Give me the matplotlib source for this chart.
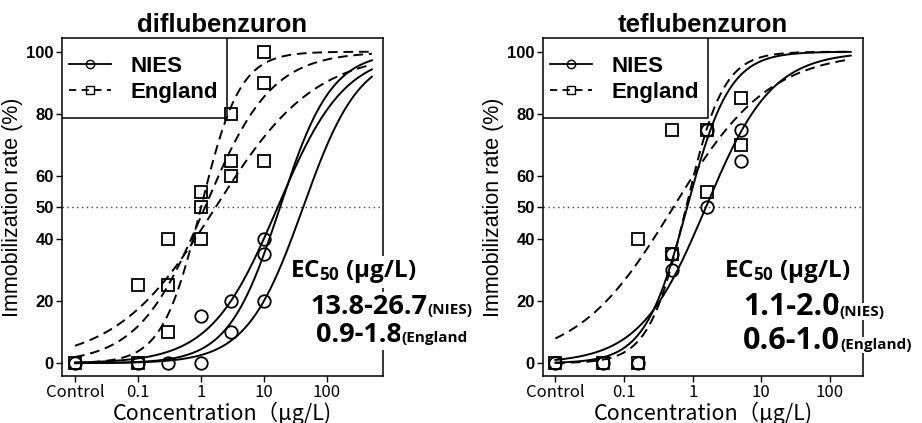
import numpy as np
import matplotlib
matplotlib.use("Agg")
import matplotlib.pyplot as plt
from matplotlib.lines import Line2D
from matplotlib.patches import Rectangle

plt.rcParams['font.family'] = ['Liberation Sans', 'DejaVu Sans']
plt.rcParams['mathtext.fontset'] = 'custom'
plt.rcParams['mathtext.default'] = 'bf'
plt.rcParams['mathtext.bf'] = 'Open Sans:bold'
plt.rcParams['mathtext.rm'] = 'Open Sans:bold'

# ---- data ----
# "Control" is drawn at 0.01 on the log axis
tick_vals = [0.01, 0.1, 1, 10, 100]
tick_labels = ["Control", "0.1", "1", "10", "100"]
y_ticks = [0, 20, 40, 50, 60, 80, 100]

# diflubenzuron
dif_nies_x = [0.01, 0.1, 0.3, 1, 1, 3, 3, 10, 10, 10]
dif_nies_y = [0, 0, 0, 15, 0, 20, 10, 40, 35, 20]
dif_eng_x = [0.01, 0.1, 0.1, 0.3, 0.3, 0.3, 1, 1, 1, 3, 3, 3, 10, 10, 10]
dif_eng_y = [0, 25, 0, 40, 25, 10, 55, 50, 40, 80, 65, 60, 100, 90, 65]
# fitted curves: EC50 and slope of each test
dif_nies_ec50 = [16.4, 17.9, 41.7]
dif_nies_slope = [0.815, 1.06, 0.97]
dif_eng_ec50 = [1.0, 1.15, 1.7]
dif_eng_slope = [1.4, 0.82, 0.55]
dif_xmax = 515

# teflubenzuron
tef_nies_x = [0.01, 0.05, 0.16, 0.5, 0.5, 1.6, 1.6, 5, 5]
tef_nies_y = [0, 0, 0, 30, 35, 75, 50, 75, 65]
tef_eng_x = [0.01, 0.05, 0.16, 0.16, 0.5, 0.5, 1.6, 1.6, 5, 5]
tef_eng_y = [0, 0, 40, 0, 75, 35, 75, 55, 85, 70]
tef_nies_ec50 = [0.83, 1.55]
tef_nies_slope = [1.4, 0.9]
tef_eng_ec50 = [0.52, 0.8]
tef_eng_slope = [0.62, 1.6]
tef_xmax = 200


def curve(x, ec50, b):
	return 100.0 / (1.0 + (ec50 / x) ** b)


def panel(ax, title, nx, ny, ex, ey, n_ec, n_b, e_ec, e_b, xmax, xlim,
		  ec_range_nies, ec_range_eng, txt_pos, num_size, box_ec50):
	xs = np.logspace(-2, np.log10(xmax), 300)
	for ec, b in zip(n_ec, n_b):
		ax.plot(xs, curve(xs, ec, b), color='black', lw=1.4, zorder=3)
	for ec, b in zip(e_ec, e_b):
		ax.plot(xs, curve(xs, ec, b), color='black', lw=1.4, dashes=(5, 3), zorder=3)
	ax.plot(nx, ny, 'o', ms=9, mfc='none', mec='black', mew=1.3, zorder=5)
	ax.plot(ex, ey, 's', ms=9, mfc='none', mec='black', mew=1.3, zorder=5)
	ax.axhline(50, color='#444444', lw=1.0, ls=(0, (1, 2.5)), zorder=1)

	ax.set_xscale('log')
	ax.set_xlim(*xlim)
	ax.set_ylim(-4.1, 104.4)
	ax.set_xticks(tick_vals)
	ax.set_xticklabels(tick_labels, family='Noto Sans CJK JP', fontsize=12)
	ax.minorticks_off()
	ax.set_yticks(y_ticks)
	ax.set_yticklabels([str(v) for v in y_ticks], fontsize=12, fontweight='bold')
	ax.tick_params(direction='out', length=4, width=1, pad=2)
	for s in ax.spines.values():
		s.set_linewidth(1.1)

	ax.set_title(title, fontsize=18.5, fontweight='bold', pad=4)
	ax.set_ylabel("Immobilization rate (%)", fontsize=15.5, labelpad=2)
	ax.set_xlabel("Concentration（μg/L)", family='Noto Sans CJK JP', fontsize=15.5, labelpad=0)

	# legend frame (R style box in the upper-left corner)
	ax.add_patch(Rectangle((0, 0.763), 0.515, 0.237, transform=ax.transAxes,
						   facecolor='white', edgecolor='black', lw=1.1, zorder=4))
	h1 = Line2D([], [], color='black', lw=1.3, marker='o', ms=6, mfc='none', mec='black')
	h2 = Line2D([], [], color='black', lw=1.3, dashes=(4, 3), marker='s', ms=6, mfc='none', mec='black')
	leg = ax.legend([h1, h2], ["NIES", "England"], loc='upper left',
					bbox_to_anchor=(0, 0.966), borderaxespad=0, frameon=False,
					prop={'weight': 'bold', 'size': 16}, handlelength=1.9,
					handletextpad=0.9, labelspacing=0.2, borderpad=0.3)
	leg.set_zorder(6)

	(ex0, ey0), (nx0, ny0), (gx0, gy0) = txt_pos
	bb = dict(facecolor='white', edgecolor='none', pad=2) if box_ec50 else None
	ax.text(ex0, ey0, r"EC$_{50}$ (μg/L)", transform=ax.transAxes, fontsize=17.5,
			family='Open Sans', fontweight='bold', ha='left', va='center',
			bbox=bb, clip_on=False, zorder=6)
	for xx, yy, val, who in [(nx0, ny0, ec_range_nies[0], ec_range_nies[1]),
							 (gx0, gy0, ec_range_eng[0], ec_range_eng[1])]:
		t = ax.text(xx, yy, val, transform=ax.transAxes, fontsize=num_size,
					family='Open Sans', fontweight='bold', ha='left', va='center',
					bbox=dict(facecolor='white', edgecolor='none', pad=1),
					clip_on=False, zorder=6)
		ax.annotate(who, xy=(1, 0.12), xycoords=t, fontsize=11, family='Open Sans',
					fontweight='bold', ha='left', va='bottom',
					bbox=dict(facecolor='white', edgecolor='none', pad=1), zorder=6)


fig = plt.figure(figsize=(9.22, 4.23), dpi=100)
ax1 = fig.add_axes([62 / 922, 1 - 376 / 423, 321 / 922, 338 / 423])
ax2 = fig.add_axes([543 / 922, 1 - 376 / 423, 320 / 922, 338 / 423])

panel(ax1, "diflubenzuron", dif_nies_x, dif_nies_y, dif_eng_x, dif_eng_y,
	  dif_nies_ec50, dif_nies_slope, dif_eng_ec50, dif_eng_slope, dif_xmax,
	  (10 ** -2.206, 10 ** 2.889), ("13.8-26.7", "(NIES)"), ("0.9-1.8", "(England"),
	  ((0.71, 0.308), (0.775, 0.205), (0.79, 0.12)), 19.5, True)
panel(ax2, "teflubenzuron", tef_nies_x, tef_nies_y, tef_eng_x, tef_eng_y,
	  tef_nies_ec50, tef_nies_slope, tef_eng_ec50, tef_eng_slope, tef_xmax,
	  (10 ** -2.18, 10 ** 2.48), ("1.1-2.0", "(NIES)"), ("0.6-1.0", "(England)"),
	  ((0.565, 0.308), (0.625, 0.203), (0.625, 0.105)), 22, False)

fig.savefig("out.png", dpi=100)
